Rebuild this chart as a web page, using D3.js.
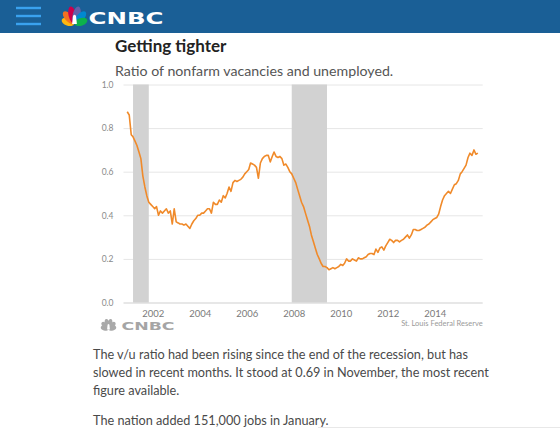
<!DOCTYPE html>
<html>
<head>
<meta charset="utf-8">
<script src="https://cdn.jsdelivr.net/npm/d3@7"></script>
<style>
  body { margin: 0; background: #fff; }
  svg { display: block; }
</style>
</head>
<body>
<div id="chart"></div>
<script>
'use strict';

// v/u ratio, monthly, starting Dec 2000 (one row per year)
var firstMonth = [2000, 11];
var ratio = [
  0.875,
  0.86, 0.77, 0.76, 0.74, 0.72, 0.69, 0.66, 0.58, 0.53, 0.49, 0.46, 0.45,
  0.44, 0.43, 0.44, 0.40, 0.42, 0.41, 0.42, 0.43, 0.41, 0.42, 0.36, 0.43,
  0.37, 0.365, 0.36, 0.36, 0.355, 0.36, 0.35, 0.34, 0.36, 0.375, 0.385, 0.40,
  0.40, 0.41, 0.41, 0.42, 0.43, 0.43, 0.41, 0.46, 0.45, 0.45, 0.47, 0.46,
  0.49, 0.48, 0.50, 0.53, 0.51, 0.55, 0.56, 0.555, 0.56, 0.565, 0.575, 0.59,
  0.60, 0.61, 0.64, 0.635, 0.63, 0.62, 0.57, 0.64, 0.66, 0.67, 0.675, 0.675,
  0.645, 0.67, 0.69, 0.67, 0.665, 0.67, 0.66, 0.63, 0.635, 0.62, 0.60, 0.59,
  0.57, 0.55, 0.52, 0.49, 0.46, 0.44, 0.41, 0.38, 0.35, 0.31, 0.28, 0.25,
  0.22, 0.20, 0.18, 0.165, 0.165, 0.16, 0.15, 0.155, 0.16, 0.155, 0.16, 0.165,
  0.175, 0.17, 0.18, 0.20, 0.19, 0.19, 0.20, 0.195, 0.19, 0.205, 0.20, 0.20,
  0.205, 0.21, 0.22, 0.225, 0.225, 0.22, 0.245, 0.23, 0.25, 0.255, 0.24, 0.26,
  0.275, 0.29, 0.285, 0.275, 0.285, 0.285, 0.278, 0.285, 0.29, 0.30, 0.31, 0.295,
  0.31, 0.335, 0.335, 0.33, 0.33, 0.335, 0.34, 0.345, 0.355, 0.36, 0.37, 0.38,
  0.385, 0.39, 0.405, 0.44, 0.47, 0.49, 0.50, 0.51, 0.50, 0.52, 0.54, 0.545,
  0.56, 0.59, 0.60, 0.615, 0.63, 0.665, 0.685, 0.675, 0.70, 0.68, 0.685
];

// NBER recessions [start, end] as [year, month]
var recessions = [
  [[2001, 2], [2001, 10]],
  [[2007, 11], [2009, 5]]
];

var xTicks = [2002, 2004, 2006, 2008, 2010, 2012, 2014];
var yTicks = [0.0, 0.2, 0.4, 0.6, 0.8, 1.0];

var title = 'Getting tighter';
var subtitle = 'Ratio of nonfarm vacancies and unemployed.';
var source = 'St. Louis Federal Reserve';
var paragraphs = [
  ['The v/u ratio had been rising since the end of the recession, but has',
   'slowed in recent months. It stood at 0.69 in November, the most recent',
   'figure available.'],
  ['The nation added 151,000 jobs in January.']
];

var featherColors = ['#fcb711', '#f37021', '#cc004c', '#6460aa', '#0089d0', '#0db14b'];
var featherGrey = ['#a9a9a9', '#a9a9a9', '#a9a9a9', '#a9a9a9', '#a9a9a9', '#a9a9a9'];


class TightnessChart {

    constructor( width, height ) {

        this.width = width;
        this.height = height;

        this.plot = { left: 123.5, right: 482.7, top: 84.5, bottom: 302.5 };

        this.svg =
            d3.select('#chart')
                .append('svg')
                .attr('width', width)
                .attr('height', height)
                .style('font-family', 'Lato, "Open Sans", sans-serif');

    }

    generateVisualization() {

        this.renderHeader();
        this.renderTitles();
        this.renderChart();
        this.renderText();

    }

    // CNBC peacock + wordmark, used in header and under the chart
    renderLogo( g, o ) {

        let bird = g.append('g')
            .attr('transform', 'translate(' + o.birdX + ',' + o.baseY + ') scale(' + o.s + ')');

        let angles = [-72, -42, -13, 13, 42, 72];
        let lengths = [13, 16, 17.5, 17.5, 16, 13];

        angles.forEach( ( a, i ) => {
            bird.append('ellipse')
                .attr('cx', 0)
                .attr('cy', -(lengths[i] / 2 + 0.4))
                .attr('rx', 3.9)
                .attr('ry', lengths[i] / 2)
                .attr('fill', o.colors[i])
                .attr('transform', 'rotate(' + a + ')');
        });

        bird.append('path')
            .attr('d', 'M-2.4,0 L-1.5,-8 Q0,-10.5 1.5,-8 L2.4,0 Z')
            .attr('fill', '#fff');

        g.append('text')
            .attr('x', o.textX)
            .attr('y', o.baseY)
            .attr('textLength', o.textW)
            .attr('lengthAdjust', 'spacingAndGlyphs')
            .attr('font-family', '"DejaVu Sans", sans-serif')
            .attr('font-weight', 'bold')
            .attr('font-size', o.fontSize)
            .attr('fill', o.textColor)
            .text('CNBC');

    }

    renderHeader() {

        this.svg.append('rect')
            .attr('x', 0)
            .attr('y', 0)
            .attr('width', this.width)
            .attr('height', 33)
            .attr('fill', '#1a5f96');

        // hamburger
        [8, 16, 24].forEach( ( yy ) => {
            this.svg.append('rect')
                .attr('x', 16)
                .attr('y', yy - 1.2)
                .attr('width', 25)
                .attr('height', 2.4)
                .attr('fill', '#3aa2ef');
        });

        this.renderLogo( this.svg.append('g'), {
            birdX: 74.5, baseY: 24, s: 1,
            textX: 88.5, textW: 75, fontSize: 16.5,
            colors: featherColors, textColor: '#fff'
        });

    }

    renderTitles() {

        this.svg.append('text')
            .attr('x', 115)
            .attr('y', 52)
            .attr('font-size', 17)
            .attr('font-weight', 'bold')
            .attr('fill', '#222')
            .text(title);

        this.svg.append('text')
            .attr('x', 115)
            .attr('y', 76)
            .attr('font-size', 14.2)
            .attr('fill', '#555')
            .text(subtitle);

    }

    renderChart() {

        let p = this.plot;

        let data = ratio.map( ( v, i ) => ({
            date: new Date(firstMonth[0], firstMonth[1] + i, 1),
            value: v
        }));

        let x = d3.scaleTime()
                  .domain([new Date(2000, 9, 4), new Date(2016, 0, 15)])
                  .range([p.left, p.right]);

        let y = d3.scaleLinear()
                  .domain([0, 1])
                  .range([p.bottom, p.top]);

        // gridlines + y labels
        let yAxis = d3.axisLeft(y)
                      .tickValues(yTicks)
                      .tickSize(-(p.right - p.left))
                      .tickPadding(10)
                      .tickFormat(d3.format('.1f'));

        let yg = this.svg.append('g')
            .attr('transform', 'translate(' + p.left + ',0)')
            .call(yAxis);

        yg.select('.domain').remove();
        yg.selectAll('.tick line')
            .attr('stroke', d => d === 0 ? '#cfcfcf' : '#e6e6e6');
        yg.selectAll('.tick text')
            .attr('fill', '#8a8a8a')
            .attr('font-size', 8.5)
            .attr('font-family', 'Lato, sans-serif');

        // recession bands, over the gridlines
        this.svg.append('g')
            .selectAll('rect')
            .data(recessions)
            .enter()
            .append('rect')
            .attr('x', d => x(new Date(d[0][0], d[0][1], 1)))
            .attr('width', d => x(new Date(d[1][0], d[1][1], 1)) - x(new Date(d[0][0], d[0][1], 1)))
            .attr('y', y(1))
            .attr('height', y(0) - y(1))
            .attr('fill', '#d2d2d2');

        let xAxis = d3.axisBottom(x)
                      .tickValues(xTicks.map( t => new Date(t, 0, 1) ))
                      .tickSize(0)
                      .tickPadding(7.5)
                      .tickFormat(d3.timeFormat('%Y'));

        let xg = this.svg.append('g')
            .attr('transform', 'translate(0,' + p.bottom + ')')
            .call(xAxis);

        xg.select('.domain').remove();
        xg.selectAll('.tick text')
            .attr('fill', '#7a7a7a')
            .attr('font-size', 9.5)
            .attr('font-family', 'Lato, sans-serif');

        let line = d3.line()
                     .x(d => x(d.date))
                     .y(d => y(d.value));

        this.svg.append('path')
            .datum(data)
            .attr('fill', 'none')
            .attr('stroke', '#f08a2a')
            .attr('stroke-width', 1.6)
            .attr('stroke-linejoin', 'round')
            .attr('d', line);

        // footer of the graphic
        this.renderLogo( this.svg.append('g'), {
            birdX: 108.5, baseY: 329.5, s: 0.6,
            textX: 121.5, textW: 53, fontSize: 11,
            colors: featherGrey, textColor: '#a5a5a5'
        });

        this.svg.append('text')
            .attr('x', p.right)
            .attr('y', 326)
            .attr('text-anchor', 'end')
            .attr('font-size', 7.5)
            .attr('fill', '#9a9a9a')
            .text(source);

    }

    renderText() {

        let yy = 358.5;

        paragraphs.forEach( ( para ) => {
            para.forEach( ( ln ) => {
                this.svg.append('text')
                    .attr('x', 93)
                    .attr('y', yy)
                    .attr('font-size', 12.7)
                    .attr('fill', '#4a4a4a')
                    .text(ln);
                yy = yy + 18;
            });
            yy = yy + 12;
        });

        this.svg.append('line')
            .attr('x1', 318)
            .attr('x2', this.width)
            .attr('y1', 427.5)
            .attr('y2', 427.5)
            .attr('stroke', '#e8e8e8');

    }
}

new TightnessChart( 560, 428 ).generateVisualization();
</script>
</body>
</html>
